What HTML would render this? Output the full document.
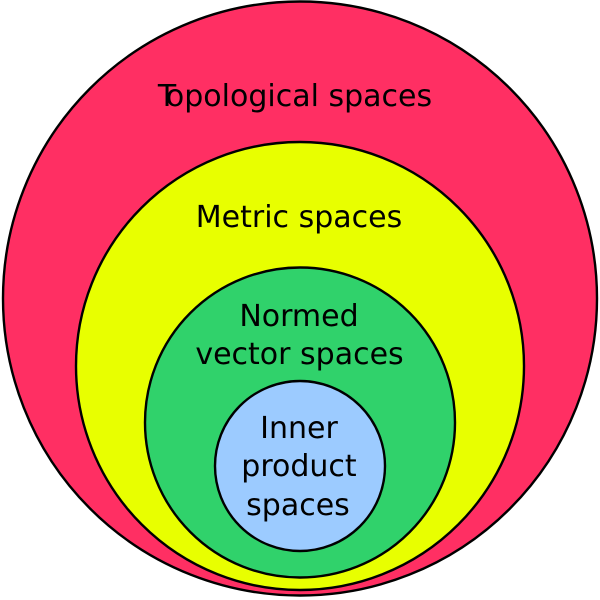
<!DOCTYPE html>
<html><head><meta charset="utf-8"><style>html,body{margin:0;padding:0;background:#fff}svg{display:block}text{font-family:"DejaVu Sans",sans-serif;font-size:30px;fill:#000;text-anchor:middle}</style></head>
<body><svg width="600" height="600" viewBox="0 0 600 600" xmlns="http://www.w3.org/2000/svg">
<g stroke="#000" stroke-width="2.4">
<circle cx="300" cy="298.500" r="297" fill="#ff2f63"/>
<circle cx="300" cy="366" r="224" fill="#e8ff00"/>
<circle cx="300" cy="422.500" r="155" fill="#30d26b"/>
<circle cx="300" cy="466" r="85" fill="#9ccbff"/>
</g>
<text x="167" y="106">T</text>
<text x="299" y="106">opological spaces</text>
<text x="299" y="227">Metric spaces</text>
<text x="299" y="326">Normed</text>
<text x="299.500" y="364">vector spaces</text>
<text x="299" y="438">Inner</text>
<text x="299" y="476">product</text>
<text x="298" y="515">spaces</text>
</svg></body></html>
